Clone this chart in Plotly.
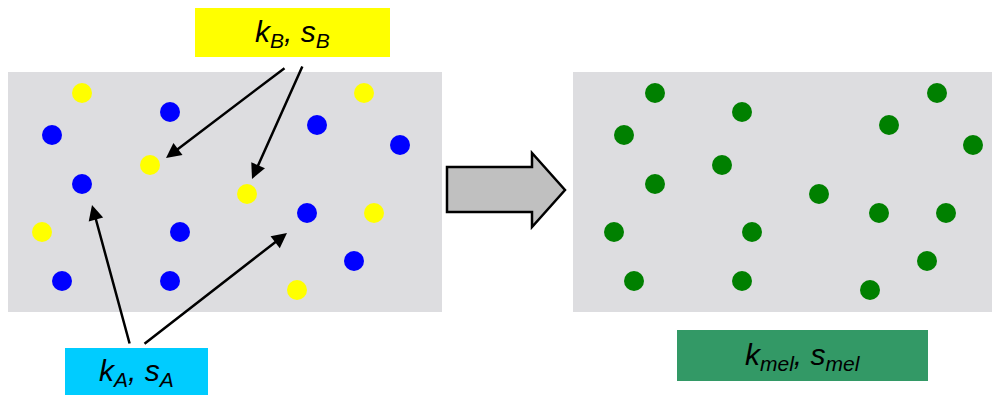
import plotly.graph_objects as go

# ---- data (diagram coordinates in a 1000 x 396 frame, y downward) ----
yellow_x = [82, 150, 247, 42, 364, 374, 297]
yellow_y = [93, 165, 194, 232, 93, 213, 290]
blue_x = [170, 52, 82, 180, 62, 170, 317, 400, 307, 354]
blue_y = [112, 135, 184, 232, 281, 281, 125, 145, 213, 261]
green_x = [655, 624, 655, 614, 634, 742, 722, 752, 742, 819, 889, 937, 973, 879, 946, 927, 870]
green_y = [93, 135, 184, 232, 281, 112, 165, 232, 281, 194, 125, 93, 145, 213, 213, 261, 290]

panels = [(7, 72, 442, 312), (573, 72, 1000, 312)]
label_texts = ["<i>k<sub>B</sub>, s<sub>B</sub></i>",
               "<i>k<sub>A</sub>, s<sub>A</sub></i>",
               "<i>k<sub>mel</sub>, s<sub>mel</sub></i>"]
label_boxes = [(195, 8, 390, 57), (65, 348, 208, 395), (677, 330, 928, 381)]
label_colors = ["#FFFF00", "#00CCFF", "#339966"]

# pointer arrows: (tail_x, tail_y, head_x, head_y)
pointers = [(286, 67, 166, 158), (303, 65, 252, 179),
            (130, 345, 92, 205), (143, 345, 287, 233)]

# block arrow outline
block_x = [447, 532, 532, 565, 532, 532, 447]
block_y = [167, 167, 153, 190, 227, 212, 212]

# the page body has an 8px margin; offset the frame so coordinates match the window
OFF = 8
W, H = 1000, 396

fig = go.Figure()

shapes = []
for (x0, y0, x1, y1) in panels:
    shapes.append(dict(type="rect", x0=x0, y0=y0, x1=x1, y1=y1, xref="x", yref="y",
                       fillcolor="#dddde0", line=dict(width=0), layer="below"))
for (x0, y0, x1, y1), c in zip(label_boxes, label_colors):
    shapes.append(dict(type="rect", x0=x0, y0=y0, x1=x1, y1=y1, xref="x", yref="y",
                       fillcolor=c, line=dict(width=0), layer="below"))
path = "M " + " L ".join(f"{x},{y}" for x, y in zip(block_x, block_y)) + " Z"
shapes.append(dict(type="path", path=path, xref="x", yref="y",
                   fillcolor="#C0C0C0", line=dict(color="black", width=2.5)))

for xs, ys, col in [(yellow_x, yellow_y, "#FFFF00"), (blue_x, blue_y, "#0000FF"),
                    (green_x, green_y, "#008000")]:
    fig.add_trace(go.Scatter(x=xs, y=ys, mode="markers",
                             marker=dict(size=20, color=col, line=dict(width=0)),
                             hoverinfo="skip", showlegend=False))

annotations = []
for (x0, y0, x1, y1), t in zip(label_boxes, label_texts):
    annotations.append(dict(x=(x0 + x1) / 2, y=(y0 + y1) / 2 + 1, text=t, showarrow=False,
                            xref="x", yref="y",
                            font=dict(family="Liberation Sans, Arial", size=30, color="black")))
for (tx, ty, hx, hy) in pointers:
    annotations.append(dict(x=hx, y=hy, ax=tx, ay=ty, xref="x", yref="y", axref="x", ayref="y",
                            text="", showarrow=True, arrowhead=2, arrowsize=1.2,
                            arrowwidth=2.5, arrowcolor="black", standoff=0, startstandoff=0))

fig.update_layout(
    width=W - OFF, height=H - OFF, margin=dict(l=0, r=0, t=0, b=0),
    paper_bgcolor="white", plot_bgcolor="white",
    xaxis=dict(range=[OFF, W], visible=False, fixedrange=True),
    yaxis=dict(range=[H, OFF], visible=False, fixedrange=True),
    shapes=shapes, annotations=annotations,
)

fig.write_html("out.html")
